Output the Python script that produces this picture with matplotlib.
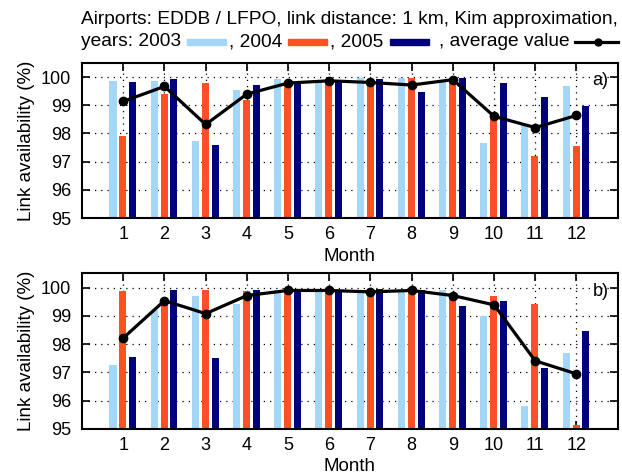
import numpy as np
import matplotlib
matplotlib.use("Agg")
import matplotlib.pyplot as plt
from matplotlib.patches import Rectangle
from matplotlib.lines import Line2D

plt.rcParams['font.family'] = ['Liberation Sans', 'DejaVu Sans']

months = list(range(1, 13))

# panel a)
a_2003 = [99.88, 99.85, 97.73, 99.53, 99.95, 99.90, 99.98, 99.96, 99.82, 97.68, 98.30, 99.67]
a_2004 = [97.90, 99.40, 99.79, 99.19, 99.78, 99.85, 99.81, 99.96, 99.88, 98.56, 97.21, 97.54]
a_2005 = [99.82, 99.92, 97.59, 99.71, 99.80, 99.90, 99.94, 99.46, 99.98, 99.78, 99.29, 98.96]
a_avg = [99.14, 99.67, 98.32, 99.40, 99.79, 99.87, 99.81, 99.72, 99.91, 98.61, 98.21, 98.64]

# panel b)
b_2003 = [97.25, 99.20, 99.72, 99.41, 99.90, 99.90, 99.90, 99.90, 99.92, 99.00, 95.81, 97.68]
b_2004 = [99.89, 99.60, 99.92, 99.89, 99.90, 99.90, 99.85, 99.90, 99.80, 99.70, 99.43, 95.14]
b_2005 = [97.54, 99.90, 97.50, 99.92, 99.90, 99.90, 99.94, 99.92, 99.36, 99.54, 97.15, 98.47]
b_avg = [98.22, 99.54, 99.08, 99.72, 99.90, 99.90, 99.85, 99.90, 99.72, 99.39, 97.41, 96.95]

c03 = '#a3d6f7'
c04 = '#fe5025'
c05 = '#00007a'
fs_title = 13.8
fs_tick = 13
fs_lab = 13.5

fig = plt.figure(figsize=(6.22, 4.74), dpi=100)
ax_a = fig.add_axes([0.132, 0.540, 0.861, 0.327])
ax_b = fig.add_axes([0.132, 0.095, 0.861, 0.328])

x = np.array(months)
w = 0.17
for ax, y3, y4, y5, avg, tag in [(ax_a, a_2003, a_2004, a_2005, a_avg, 'a)'),
                                 (ax_b, b_2003, b_2004, b_2005, b_avg, 'b)')]:
    ax.set_axisbelow(True)
    ax.grid(True, linestyle=(0, (1, 4)), color='black', linewidth=0.9)
    ax.bar(x - 0.25, np.array(y3) - 95, w, bottom=95, color=c03, zorder=2)
    ax.bar(x - 0.01, np.array(y4) - 95, w, bottom=95, color=c04, zorder=2)
    ax.bar(x + 0.23, np.array(y5) - 95, w, bottom=95, color=c05, zorder=2)
    ax.plot(x, avg, color='black', linewidth=2.3, marker='o', markersize=6, zorder=3)
    ax.set_xlim(0, 13)
    ax.set_ylim(95, 100.5)
    ax.set_xticks(months)
    ax.set_yticks(range(95, 101))
    ax.tick_params(direction='in', top=True, right=True, length=6, width=1.2,
                   labelsize=fs_tick)
    ax.tick_params(axis='x', pad=6)
    ax.tick_params(axis='y', pad=8)
    for s in ax.spines.values():
        s.set_linewidth(1.5)
    ax.set_xlabel('Month', fontsize=fs_lab, labelpad=3)
    ax.set_ylabel('Link availability (%)', fontsize=fs_lab, labelpad=4)
    ax.text(12.78, 99.87, tag, fontsize=fs_tick, ha='right', va='center')

# title with inline legend
x_start = 81
fig.text(x_start / 622, 1 - 20 / 474,
         'Airports: EDDB / LFPO, link distance: 1 km, Kim approximation,',
         fontsize=fs_title, va='center', ha='left')
y2 = 1 - 42 / 474
ph = 6 / 474
pw = 39
renderer = fig.canvas.get_renderer()
xpos = x_start
pieces = [('years: 2003', c03, 3), (', 2004', c04, 3), (', 2005', c05, 10),
          (', average value', None, 0)]
for label, c, gap in pieces:
    t = fig.text(xpos / 622, y2, label, fontsize=fs_title, va='center', ha='left')
    xpos = t.get_window_extent(renderer).x1 + 6
    if c is not None:
        fig.patches.append(Rectangle((xpos / 622, y2 - ph / 2), pw / 622, ph,
                                     transform=fig.transFigure, color=c, figure=fig))
        xpos += pw + gap
    else:
        fig.lines.append(Line2D([xpos / 622, (xpos + 43) / 622], [y2, y2],
                                transform=fig.transFigure, color='black',
                                linewidth=2.3, figure=fig))
        fig.lines.append(Line2D([(xpos + 23) / 622], [y2], transform=fig.transFigure,
                                color='black', marker='o', markersize=5, figure=fig))

fig.savefig('out.png', dpi=100)
